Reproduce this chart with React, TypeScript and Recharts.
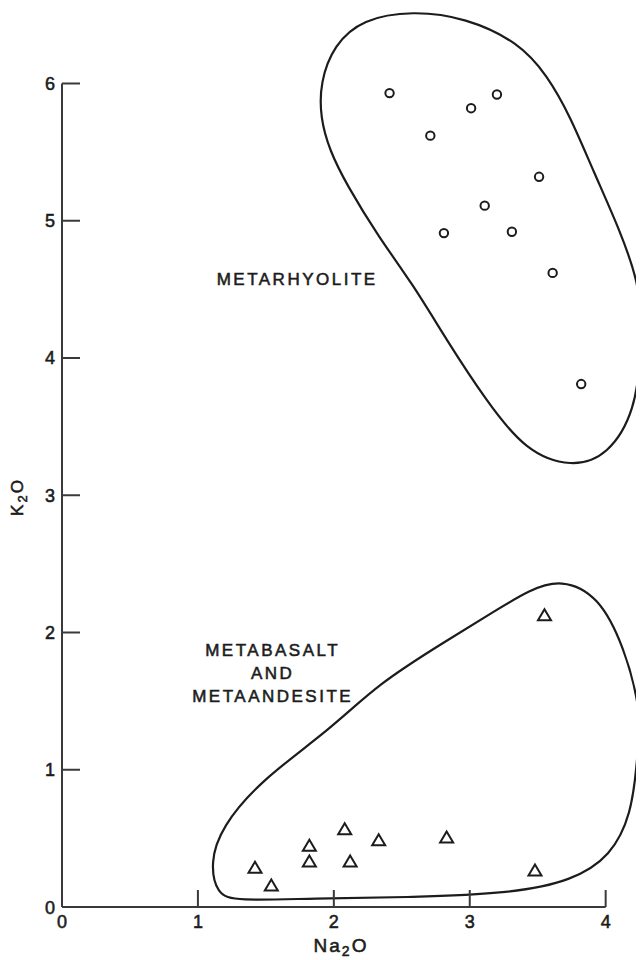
import React from "react";
import { ComposedChart, Line, Scatter, XAxis, YAxis, ReferenceLine, ReferenceDot, Label } from "recharts";

const INK = "#1c1c1c";
const AXIS_INK = "#3a3a3a";
const FONT = "'Liberation Sans', Arial, sans-serif";

const xTicks = [0, 1, 2, 3, 4];
const yTicks = [0, 1, 2, 3, 4, 5, 6];

// Na2O / K2O
const metarhyolite = [
  { x: 2.41, y: 5.93 },
  { x: 3.2, y: 5.92 },
  { x: 3.01, y: 5.82 },
  { x: 2.71, y: 5.62 },
  { x: 3.51, y: 5.32 },
  { x: 3.11, y: 5.11 },
  { x: 2.81, y: 4.91 },
  { x: 3.31, y: 4.92 },
  { x: 3.61, y: 4.62 },
  { x: 3.82, y: 3.81 },
];

const metabasalt = [
  { x: 1.42, y: 0.29 },
  { x: 1.54, y: 0.16 },
  { x: 1.82, y: 0.45 },
  { x: 1.82, y: 0.335 },
  { x: 2.08, y: 0.57 },
  { x: 2.12, y: 0.335 },
  { x: 2.33, y: 0.49 },
  { x: 2.83, y: 0.51 },
  { x: 3.48, y: 0.27 },
  { x: 3.55, y: 2.13 },
];

// hand-drawn field outlines (traced)
const rhyoliteField = [
  { x: 2.21, y: 6.47 },
  { x: 2.58, y: 6.53 },
  { x: 2.97, y: 6.48 },
  { x: 3.36, y: 6.3 },
  { x: 3.57, y: 6.06 },
  { x: 3.74, y: 5.76 },
  { x: 3.91, y: 5.36 },
  { x: 4.11, y: 4.92 },
  { x: 4.24, y: 4.55 },
  { x: 4.26, y: 4.3 },
  { x: 4.26, y: 4.05 },
  { x: 4.22, y: 3.62 },
  { x: 4.02, y: 3.29 },
  { x: 3.75, y: 3.2 },
  { x: 3.41, y: 3.32 },
  { x: 3.12, y: 3.69 },
  { x: 2.83, y: 4.13 },
  { x: 2.58, y: 4.54 },
  { x: 2.33, y: 4.88 },
  { x: 2.09, y: 5.27 },
  { x: 1.97, y: 5.51 },
  { x: 1.9, y: 5.75 },
  { x: 1.9, y: 6.01 },
  { x: 2.0, y: 6.28 },
];

const basaltField = [
  { x: 3.44, y: 2.31 },
  { x: 3.67, y: 2.39 },
  { x: 3.95, y: 2.27 },
  { x: 4.14, y: 1.88 },
  { x: 4.24, y: 1.5 },
  { x: 4.25, y: 1.3 },
  { x: 4.23, y: 1.05 },
  { x: 4.19, y: 0.68 },
  { x: 4.04, y: 0.37 },
  { x: 3.75, y: 0.19 },
  { x: 3.31, y: 0.1 },
  { x: 2.58, y: 0.07 },
  { x: 1.84, y: 0.063 },
  { x: 1.28, y: 0.045 },
  { x: 1.14, y: 0.09 },
  { x: 1.09, y: 0.32 },
  { x: 1.17, y: 0.58 },
  { x: 1.47, y: 0.93 },
  { x: 1.97, y: 1.29 },
  { x: 2.33, y: 1.63 },
  { x: 2.83, y: 1.94 },
  { x: 3.19, y: 2.16 },
];

const fieldLabels = [
  { x: 1.73, y: 4.53, lines: ["METARHYOLITE"] },
  { x: 1.55, y: 1.66, lines: ["METABASALT", "AND", "METAANDESITE"] },
];

const textStyle = { fontFamily: FONT, fill: INK, stroke: INK, strokeWidth: 0.55 };

const XTick = ({ x, y, payload }: any) => (
  <g>
    <line x1={x} x2={x} y1={y} y2={y - 17} stroke={AXIS_INK} strokeWidth={2} />
    <text x={x} y={y + 21} textAnchor="middle" fontSize={18} {...textStyle}>
      {payload.value}
    </text>
  </g>
);

const YTick = ({ x, y, payload }: any) => (
  <g>
    <line x1={x} x2={x + 18} y1={y} y2={y} stroke={AXIS_INK} strokeWidth={2} />
    <text x={x - 7} y={y + 6.5} textAnchor="end" fontSize={18} {...textStyle}>
      {payload.value}
    </text>
  </g>
);

const Ring = ({ cx, cy }: any) => (
  <circle cx={cx} cy={cy} r={4.2} fill="#fff" stroke={INK} strokeWidth={2} />
);

const Tri = ({ cx, cy }: any) => (
  <path
    d={`M${cx},${cy - 5.5}L${cx + 6.5},${cy + 5.5}L${cx - 6.5},${cy + 5.5}Z`}
    fill="#fff"
    stroke={INK}
    strokeWidth={2}
    strokeLinejoin="miter"
  />
);

const fieldLabel = (lines: string[]) => (props: any) => {
  const { viewBox } = props;
  const cx = viewBox.x + (viewBox.width || 0) / 2;
  const cy = viewBox.y + (viewBox.height || 0) / 2;
  return (
    <text textAnchor="middle" fontSize={17} letterSpacing={2.5} {...textStyle}>
      {lines.map((t, i) => (
        <tspan key={t} x={cx} y={cy + (i - (lines.length - 1) / 2) * 23}>
          {t}
        </tspan>
      ))}
    </text>
  );
};

export default function App() {
  return (
    <ComposedChart width={636} height={952} margin={{ top: 0, right: 3, bottom: 0, left: 0 }}>
      <XAxis
        type="number"
        dataKey="x"
        domain={[0, 4.25]}
        ticks={xTicks}
        interval={0}
        axisLine={false}
        tickLine={false}
        tickSize={0}
        tickMargin={0}
        tick={XTick}
        height={53}
      >
        <Label
          content={(p: any) => (
            <text
              x={p.viewBox.x + 279}
              y={p.viewBox.y + 45}
              textAnchor="middle"
              fontSize={19}
              letterSpacing={2}
              {...textStyle}
            >
              Na<tspan dy={4} fontSize={14}>2</tspan>
              <tspan dy={-4}>O</tspan>
            </text>
          )}
        />
      </XAxis>
      <YAxis
        type="number"
        dataKey="y"
        domain={[0, 6.55]}
        ticks={yTicks}
        interval={0}
        axisLine={false}
        tickLine={false}
        tickSize={0}
        tickMargin={0}
        tick={YTick}
        width={54}
      >
        <Label
          content={(p: any) => {
            const cx = p.viewBox.x + 15;
            const cy = p.viewBox.y + 489;
            return (
              <text
                x={cx}
                y={cy}
                transform={`rotate(-90, ${cx}, ${cy})`}
                textAnchor="middle"
                fontSize={17}
                letterSpacing={2}
                {...textStyle}
              >
                K<tspan dy={4} fontSize={13}>2</tspan>
                <tspan dy={-4}>O</tspan>
              </text>
            );
          }}
        />
      </YAxis>

      <ReferenceLine segment={[{ x: 0, y: 0 }, { x: 4, y: 0 }]} stroke={AXIS_INK} strokeWidth={2} ifOverflow="visible" />
      <ReferenceLine segment={[{ x: 0, y: 0 }, { x: 0, y: 6 }]} stroke={AXIS_INK} strokeWidth={2} ifOverflow="visible" />

      <Line
        data={rhyoliteField}
        dataKey="y"
        type="basisClosed"
        stroke={INK}
        strokeWidth={2.2}
        dot={false}
        activeDot={false}
        isAnimationActive={false}
      />
      <Line
        data={basaltField}
        dataKey="y"
        type="basisClosed"
        stroke={INK}
        strokeWidth={2.2}
        dot={false}
        activeDot={false}
        isAnimationActive={false}
      />

      <Scatter data={metarhyolite} dataKey="y" shape={Ring} isAnimationActive={false} />
      <Scatter data={metabasalt} dataKey="y" shape={Tri} isAnimationActive={false} />

      {fieldLabels.map((f) => (
        <ReferenceDot
          key={f.lines[0]}
          x={f.x}
          y={f.y}
          r={0}
          fill="none"
          stroke="none"
          ifOverflow="visible"
          label={{ content: fieldLabel(f.lines) }}
        />
      ))}
    </ComposedChart>
  );
}
